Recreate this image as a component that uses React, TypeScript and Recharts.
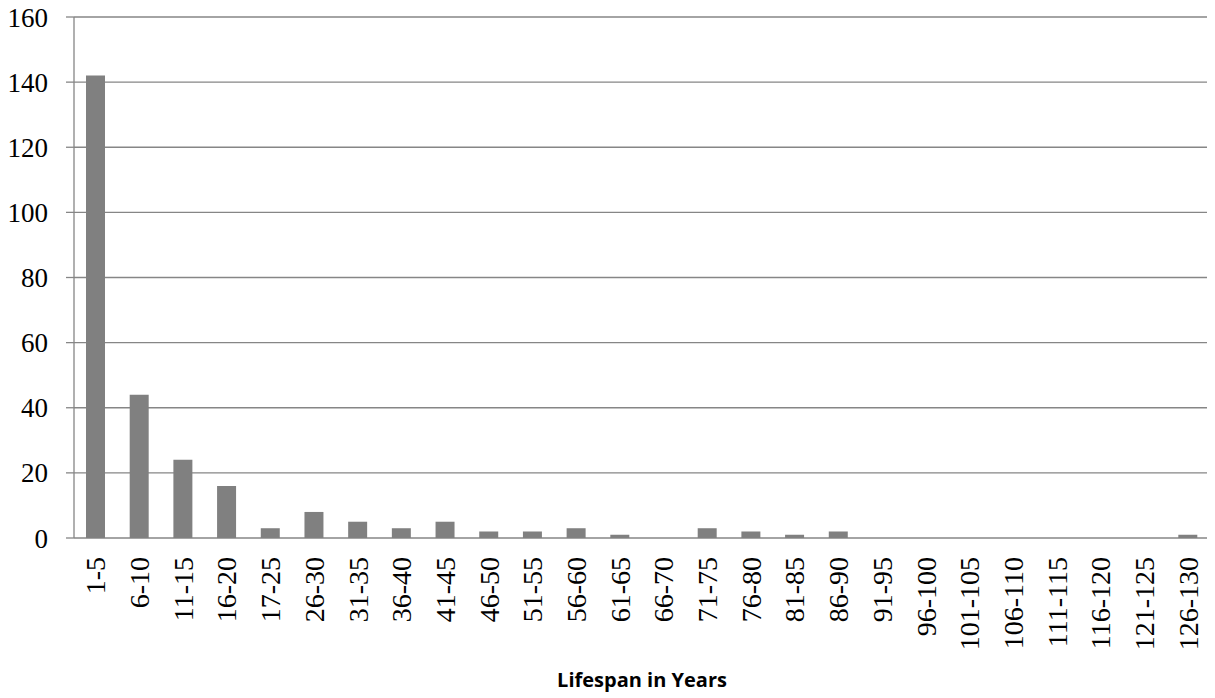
import React from "react";
import { BarChart, Bar, XAxis, YAxis, CartesianGrid } from "recharts";

const categories = [
  "1-5", "6-10", "11-15", "16-20", "17-25", "26-30", "31-35", "36-40", "41-45",
  "46-50", "51-55", "56-60", "61-65", "66-70", "71-75", "76-80", "81-85", "86-90",
  "91-95", "96-100", "101-105", "106-110", "111-115", "116-120", "121-125", "126-130",
];
const counts = [142, 44, 24, 16, 3, 8, 5, 3, 5, 2, 2, 3, 1, 0, 3, 2, 1, 2, 0, 0, 0, 0, 0, 0, 0, 1];
const yTicks = [0, 20, 40, 60, 80, 100, 120, 140, 160];
const xTitle = "Lifespan in Years";

const data = categories.map((c, i) => ({ range: c, count: counts[i] }));
const edgeTicks = [...categories.map((_, i) => i), categories.length];

const GRAY = "#868686";
const SERIF = "Liberation Serif";

const CatTick = (props: any) => {
  const { x, y, payload } = props;
  const ty = y + 19;
  return (
    <g transform={`translate(${x}, ${ty}) rotate(-90)`}>
      <text
        x={0}
        y={0}
        textAnchor="end"
        dy="0.34em"
        fontFamily={SERIF}
        fontSize={28}
        fill="#000"
      >
        {payload.value}
      </text>
    </g>
  );
};

const TitleLabel = (props: any) => {
  const { viewBox } = props;
  if (!viewBox) return null;
  return (
    <text
      x={viewBox.x + viewBox.width / 2}
      y={viewBox.y + 149}
      textAnchor="middle"
      fontFamily="Open Sans"
      fontWeight="bold"
      fontSize={20}
      fill="#000"
    >
      {xTitle}
    </text>
  );
};

export default function App() {
  return (
    <BarChart
      width={1207}
      height={690}
      data={data}
      margin={{ top: 9, right: 5, left: 0, bottom: 10 }}
      barCategoryGap={0}
    >
      <CartesianGrid xAxisId="cat" horizontal vertical={false} stroke={GRAY} strokeWidth={1.3} />
      <XAxis
        xAxisId="edges"
        type="number"
        domain={[0, categories.length]}
        ticks={edgeTicks}
        tick={false}
        height={0}
        axisLine={{ stroke: GRAY, strokeWidth: 1.3 }}
        tickLine={{ stroke: GRAY, strokeWidth: 1.3 }}
        tickSize={8}
        allowDataOverflow
      />
      <XAxis
        xAxisId="cat"
        dataKey="range"
        type="category"
        interval={0}
        height={150}
        axisLine={false}
        tickLine={false}
        tickSize={0}
        tickMargin={0}
        tick={<CatTick />}
        label={<TitleLabel />}
      />
      <YAxis
        width={66}
        domain={[0, 160]}
        ticks={yTicks}
        interval={0}
        axisLine={{ stroke: GRAY, strokeWidth: 1.3 }}
        tickLine={{ stroke: GRAY, strokeWidth: 1.3 }}
        tickSize={8}
        tickMargin={18}
        tick={{ fontFamily: SERIF, fontSize: 27, fill: "#000" }}
      />
      <Bar xAxisId="cat" dataKey="count" fill="#808080" barSize={19} isAnimationActive={false} />
    </BarChart>
  );
}
